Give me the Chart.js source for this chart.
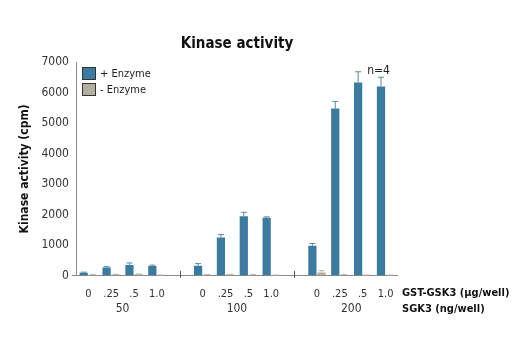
<!DOCTYPE html>
<html>
<head>
<meta charset="utf-8">
<script src="https://cdn.jsdelivr.net/npm/chart.js@4/dist/chart.umd.min.js"></script>
<style>
  html, body { margin: 0; padding: 0; background: #fff; }
  #wrap { width: 520px; height: 350px; }
</style>
</head>
<body>
<div id="wrap"><canvas id="chart" width="520" height="350"></canvas></div>
<script>
const FONT = "'DejaVu Sans Condensed', 'Liberation Sans Narrow', 'Liberation Sans', Arial, sans-serif";

// 14 slots: 4 bars per SGK3 group, one empty slot between groups
const doseLabels = ["0", ".25", ".5", "1.0", "", "0", ".25", ".5", "1.0", "", "0", ".25", ".5", "1.0"];
const groupLabels = ["50", "100", "200"];
const groupSlots = [1.5, 6.5, 11.5];
const separatorSlots = [4, 9];

const plusEnzyme = [100, 270, 350, 320, null, 330, 1250, 1950, 1900, null, 980, 5480, 6330, 6200];
const plusError = [20, 30, 70, 30, null, 70, 100, 130, 30, null, 80, 230, 350, 300];
const minusEnzyme = [30, 40, 50, 20, null, 30, 40, 30, 20, null, 110, 30, 20, 20];
const minusError = [10, 10, 10, 5, null, 10, 10, 10, 5, null, 60, 10, 5, 5];

const yTicks = [0, 1000, 2000, 3000, 4000, 5000, 6000, 7000];

const BLUE = "#3b7ba0";
const GRAY = "#b3b09f";
const AXIS = "#8a8a8a";

const extras = {
  id: "extras",
  afterDatasetsDraw(chart) {
    const ctx = chart.ctx;
    const x = chart.scales.x;
    const y = chart.scales.y;

    // error bars
    const errs = [plusError, minusError];
    const cols = ["#5f88a3", "#b9b6a8"];
    chart.data.datasets.forEach((ds, i) => {
      const meta = chart.getDatasetMeta(i);
      meta.data.forEach((bar, j) => {
        const v = ds.data[j];
        const e = errs[i][j];
        if (v == null || e == null) return;
        const top = y.getPixelForValue(v + e);
        ctx.save();
        ctx.strokeStyle = cols[i];
        ctx.lineWidth = 1;
        ctx.beginPath();
        ctx.moveTo(bar.x, bar.y);
        ctx.lineTo(bar.x, top);
        ctx.moveTo(bar.x - 3, top);
        ctx.lineTo(bar.x + 3, top);
        ctx.stroke();
        ctx.restore();
      });
    });

    ctx.save();
    // separator ticks
    ctx.strokeStyle = "#555";
    ctx.lineWidth = 1;
    separatorSlots.forEach(s => {
      const px = Math.round(x.getPixelForValue(s)) + 0.5;
      ctx.beginPath();
      ctx.moveTo(px, y.bottom - 5);
      ctx.lineTo(px, y.bottom + 2);
      ctx.stroke();
    });

    // title
    ctx.fillStyle = "#111";
    ctx.font = "bold 15px " + FONT;
    ctx.textAlign = "center";
    ctx.textBaseline = "middle";
    ctx.fillText("Kinase activity", 237, 44);

    // group labels
    ctx.fillStyle = "#333";
    ctx.font = "12px " + FONT;
    groupSlots.forEach((s, i) => {
      const px = x.left + (s + 0.5) * (x.right - x.left) / doseLabels.length;
      ctx.fillText(groupLabels[i], px, 309);
    });

    // right hand axis names
    ctx.fillStyle = "#111";
    ctx.font = "bold 11px " + FONT;
    ctx.textAlign = "left";
    ctx.fillText("GST-GSK3 (\u00b5g/well)", 402, 293);
    ctx.fillText("SGK3 (ng/well)", 402, 309);

    // n=4
    ctx.font = "12px " + FONT;
    ctx.fillStyle = "#222";
    ctx.textAlign = "center";
    ctx.fillText("n=4", x.getPixelForValue(13) - 7, y.getPixelForValue(6700));

    // legend
    const items = [["+ Enzyme", BLUE], ["- Enzyme", GRAY]];
    items.forEach((it, i) => {
      const ly = 67 + i * 16;
      ctx.fillStyle = it[1];
      ctx.fillRect(82, ly, 14, 13);
      ctx.strokeStyle = "#333";
      ctx.strokeRect(82.5, ly + 0.5, 13, 12);
      ctx.fillStyle = "#222";
      ctx.textAlign = "left";
      ctx.font = "11px " + FONT;
      ctx.fillText(it[0], 100, ly + 7);
    });
    ctx.restore();
  }
};

new Chart(document.getElementById("chart"), {
  type: "bar",
  data: {
    labels: doseLabels,
    datasets: [
      { label: "+ Enzyme", data: plusEnzyme, backgroundColor: BLUE },
      { label: "- Enzyme", data: minusEnzyme, backgroundColor: GRAY }
    ]
  },
  options: {
    responsive: false,
    animation: false,
    layout: { padding: { left: 14, right: 123, top: 62, bottom: 37 } },
    datasets: { bar: { categoryPercentage: 0.8, barPercentage: 0.9 } },
    plugins: {
      legend: { display: false },
      tooltip: { enabled: false },
      title: { display: false }
    },
    scales: {
      x: {
        grid: { display: false, drawTicks: false },
        border: { color: AXIS },
        ticks: { color: "#333", font: { family: FONT, size: 11 }, maxRotation: 0, autoSkip: false, padding: 12 }
      },
      y: {
        min: 0,
        max: 7000,
        afterBuildTicks: axis => { axis.ticks = yTicks.map(v => ({ value: v })); },
        grid: {
          display: true,
          drawOnChartArea: false,
          drawTicks: true,
          tickLength: 5,
          tickColor: c => (c.tick && c.tick.value === 0 ? AXIS : "rgba(0,0,0,0)")
        },
        border: { color: AXIS },
        ticks: { color: "#333", font: { family: FONT, size: 12 }, padding: 3, callback: v => String(v) },
        title: {
          display: true,
          text: "Kinase activity (cpm)",
          color: "#111",
          font: { family: FONT, size: 12, weight: "bold" },
          padding: { bottom: 6 }
        }
      }
    }
  },
  plugins: [extras]
});
</script>
</body>
</html>
